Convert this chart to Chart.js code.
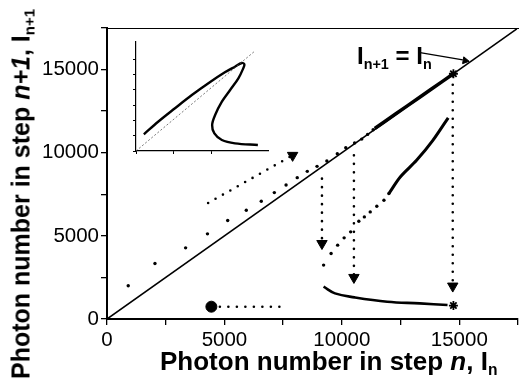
<!DOCTYPE html>
<html>
<head>
<meta charset="utf-8">
<script src="https://cdn.jsdelivr.net/npm/chart.js@4.4.0/dist/chart.umd.min.js"></script>
<style>
  body { margin: 0; background: #fff; }
  #wrap { position: relative; width: 525px; height: 390px; font-family: "Liberation Sans", Arial, sans-serif; color: #000; overflow: hidden; }
  #main { position: absolute; left: 0; top: 0; }
  #inset { position: absolute; left: 126px; top: 35px; }
  .lbl { position: absolute; white-space: nowrap; font-weight: bold; line-height: 1; }
  .lbl sub { font-size: 60%; vertical-align: baseline; position: relative; top: 0.35em; }
  #ytitle { left: 21px; top: 194px; font-size: 25px; transform: translate(-50%, -50%) rotate(-90deg); }
  #xtitle { left: 160px; top: 361px; font-size: 26px; transform: translateY(-50%); }
  #eq { left: 357px; top: 56px; font-size: 24px; transform: translateY(-50%); }
</style>
</head>
<body>
<div id="wrap">
  <canvas id="main" width="525" height="390"></canvas>
  <canvas id="inset" width="150" height="125"></canvas>
  <div id="ytitle" class="lbl">Photon number in step <i>n+1</i>, I<sub>n+1</sub></div>
  <div id="xtitle" class="lbl">Photon number in step <i>n</i>, I<sub>n</sub></div>
  <div id="eq" class="lbl">I<sub>n+1</sub> = I<sub>n</sub></div>
</div>
<script>
// values (photon numbers)
const diagX = [0, 17450];
const diagY = [0, 17450];

// iteration steps starting from low intensity
const iterX = [904, 2042, 3347, 4278, 5139, 5931, 6569, 7125, 7625, 8100, 8528, 8944, 9361, 9806, 10167, 10542, 10847, 11097, 11333];
const iterY = [2000, 3340, 4280, 5120, 5920, 6540, 7080, 7600, 8060, 8500, 8880, 9180, 9500, 9940, 10300, 10580, 10820, 11100, 11380];

// converged part along the diagonal
const convX = [11400, 11800, 12300, 12800, 13300, 13800, 14300, 14750];
const convY = [11460, 11850, 12340, 12830, 13320, 13815, 14305, 14750];

// middle branch: dotted then solid
const midDotX = [9222, 9542, 9821, 10097, 10375, 10722, 10958, 11208, 11488, 11792, 12000];
const midDotY = [3240, 3940, 4440, 4880, 5240, 5880, 6140, 6440, 6780, 7140, 7540];
const midLineX = [12000, 12486, 13181, 13875, 14528];
const midLineY = [7540, 8540, 9540, 10740, 12100];

// lower branch
const lowX = [9222, 9708, 10542, 11931, 13319, 14500];
const lowY = [1940, 1540, 1300, 1040, 940, 840];

// dotted arrows [x0, y0, x1, y1]
const arrows = [
  [4306, 6978, 7820, 9780],
  [9153, 8440, 9153, 4600],
  [10514, 9840, 10514, 2560],
  [14722, 14600, 14722, 2040]
];
const headX = [7903, 9153, 10514, 14722];
const headY = [9840, 4540, 2500, 1980];

// horizontal dotted line from the start point
const startX = [4444, 7611];
const startY = [740, 740];

const starX = [14750, 14750];
const starY = [14750, 810];

// pointer for the I(n+1) = I(n) label
const pointerX = [13333, 15150];
const pointerY = [16020, 15580];
const pointerHeadX = [15250];
const pointerHeadY = [15540];

const tickStep = 2500;
const labelStep = 5000;

// inset: S-shaped curve in arbitrary units
const insetX = [0.21, 0.59, 1.04, 1.49, 1.93, 2.37, 2.64, 2.82, 2.89, 2.86, 2.73, 2.51, 2.29, 2.11, 2.03, 2.09, 2.29, 2.64, 3.25];
const insetY = [1.09, 1.91, 2.79, 3.65, 4.42, 5.13, 5.50, 5.74, 5.66, 5.39, 4.74, 3.98, 3.22, 2.35, 1.70, 1.15, 0.72, 0.50, 0.39];
const insetDiagX = [0, 3.15];
const insetDiagY = [0, 6.48];

const pts = (xs, ys) => xs.map((x, i) => ({ x: x, y: ys[i] }));

const FONT = '"Liberation Sans", Arial, sans-serif';

const dotted = {
  showLine: true, borderColor: '#000', borderWidth: 2.6, borderDash: [0, 8.5],
  borderCapStyle: 'round', pointRadius: 0
};

const datasets = [
  { data: pts(diagX, diagY), showLine: true, borderColor: '#000', borderWidth: 1.6, pointRadius: 0 },
  { data: pts(iterX, iterY), backgroundColor: '#000', borderColor: '#000', pointRadius: 1.7, borderWidth: 0 },
  { data: pts(convX, convY), showLine: true, borderColor: '#000', borderWidth: 3.5, pointRadius: 0 },
  { data: pts(midDotX, midDotY), backgroundColor: '#000', borderColor: '#000', pointRadius: 1.7, borderWidth: 0 },
  { data: pts(midLineX, midLineY), showLine: true, borderColor: '#000', borderWidth: 3, pointRadius: 0, tension: 0.3 },
  { data: pts(lowX, lowY), showLine: true, borderColor: '#000', borderWidth: 2.6, pointRadius: 0, tension: 0.4 }
];

arrows.forEach(a => {
  datasets.push(Object.assign({ data: [{ x: a[0], y: a[1] }, { x: a[2], y: a[3] }] }, dotted));
});
datasets.push(Object.assign({ data: pts(startX, startY) }, dotted));

datasets.push({
  data: pts(headX, headY), pointStyle: 'triangle', pointRotation: 180, pointRadius: 6,
  backgroundColor: '#000', borderColor: '#000', borderWidth: 1
});
datasets.push({
  data: [{ x: startX[0], y: startY[0] }], pointStyle: 'circle', pointRadius: 5.5,
  backgroundColor: '#000', borderColor: '#000'
});
datasets.push({
  data: pts(starX, starY), pointStyle: 'star', pointRadius: 4.5,
  backgroundColor: '#000', borderColor: '#000', borderWidth: 1.8
});
datasets.push({ data: pts(pointerX, pointerY), showLine: true, borderColor: '#000', borderWidth: 1.3, pointRadius: 0 });
datasets.push({
  data: pts(pointerHeadX, pointerHeadY), pointStyle: 'triangle', pointRotation: 100, pointRadius: 4,
  backgroundColor: '#000', borderColor: '#000', borderWidth: 1
});

function axisTicks() {
  return {
    stepSize: tickStep, autoSkip: false, maxRotation: 0, color: '#000',
    font: { size: 20.5, family: FONT },
    callback: v => (v % labelStep === 0 ? String(v) : '')
  };
}

new Chart(document.getElementById('main').getContext('2d'), {
  type: 'scatter',
  data: { datasets: datasets },
  options: {
    responsive: false,
    animation: false,
    layout: { padding: { top: 28, left: 0, right: -2, bottom: 0 } },
    plugins: { legend: { display: false }, tooltip: { enabled: false } },
    scales: {
      x: {
        type: 'linear', position: 'bottom', min: 0, max: 17500,
        afterFit: s => { s.height = 71; },
        ticks: Object.assign(axisTicks(), { padding: 3 }),
        grid: { drawOnChartArea: false, tickLength: 6, color: '#000', lineWidth: 1.3 },
        border: { color: '#000', width: 2 }
      },
      xTop: {
        type: 'linear', position: 'top', min: 0, max: 17500,
        afterFit: s => { s.height = 0; },
        ticks: { display: false },
        grid: { display: false },
        border: { color: '#000', width: 1 }
      },
      y: {
        type: 'linear', position: 'left', min: 0, max: 17500,
        afterFit: s => { s.width = 107; },
        ticks: Object.assign(axisTicks(), { padding: 2 }),
        grid: { drawOnChartArea: false, tickLength: 6, color: '#000', lineWidth: 1.3 },
        border: { color: '#000', width: 2 }
      }
    }
  }
});

// inset
new Chart(document.getElementById('inset').getContext('2d'), {
  type: 'scatter',
  data: {
    datasets: [
      { data: pts(insetDiagX, insetDiagY), showLine: true, borderColor: '#555', borderWidth: 0.8, borderDash: [2, 2], pointRadius: 0 },
      { data: pts(insetX, insetY), showLine: true, borderColor: '#000', borderWidth: 2.4, pointRadius: 0, tension: 0.35 }
    ]
  },
  options: {
    responsive: false,
    animation: false,
    layout: { padding: { top: 7, left: 10, right: 8, bottom: 9 } },
    plugins: { legend: { display: false }, tooltip: { enabled: false } },
    scales: {
      x: {
        type: 'linear', min: 0, max: 3.52,
        afterFit: s => { s.height = 0; },
        afterBuildTicks: s => { s.ticks = s.ticks.filter(t => Number.isInteger(t.value)); },
        ticks: { display: false, stepSize: 1 },
        grid: { drawOnChartArea: false, tickLength: 3, color: '#000' },
        border: { color: '#000', width: 1.2 }
      },
      y: {
        type: 'linear', min: 0, max: 7.11,
        afterFit: s => { s.width = 0; },
        afterBuildTicks: s => { s.ticks = s.ticks.filter(t => Number.isInteger(t.value)); },
        ticks: { display: false, stepSize: 1 },
        grid: { drawOnChartArea: false, tickLength: 3, color: '#000' },
        border: { color: '#000', width: 1.2 }
      }
    }
  }
});
</script>
</body>
</html>
